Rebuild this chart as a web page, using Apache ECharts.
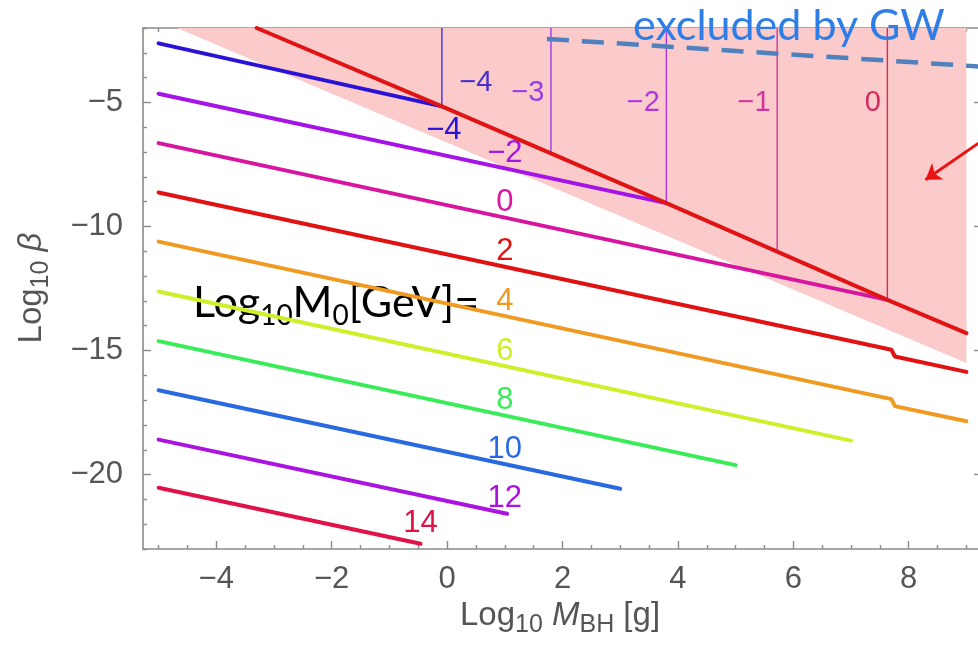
<!DOCTYPE html>
<html>
<head>
<meta charset="utf-8">
<script src="https://cdn.jsdelivr.net/npm/echarts@6/dist/echarts.min.js"></script>
<style>
  html, body { margin: 0; padding: 0; background: #fff; }
  #chart { width: 978px; height: 658px; }
</style>
</head>
<body>
<div id="chart"></div>
<script>
// ---- data: log10 M_BH [g] vs log10 beta, one curve per log10 M0 [GeV] ----
const levels = [-4, -2, 0, 2, 4, 6, 8, 10, 12, 14];
const curveMinus4 = [[-5, -2.62], [-0.09, -5.16]];
const curveMinus2 = [[-5, -4.65], [3.8, -9.06]];
const curve0  = [[-5, -6.64], [7.63, -12.96]];
const curve2  = [[-5, -8.63], [7.6, -14.92], [7.7, -14.97], [7.76, -15.24], [9, -15.86]];
const curve4  = [[-5, -10.61], [7.6, -16.91], [7.7, -16.96], [7.76, -17.24], [9, -17.85]];
const curve6  = [[-5, -12.62], [7.0, -18.63]];
const curve8  = [[-5, -14.62], [5.0, -19.62]];
const curve10 = [[-5, -16.6], [3.0, -20.57]];
const curve12 = [[-5, -18.59], [1.04, -21.58]];
const curve14 = [[-5, -20.53], [-0.46, -22.79]];
const curves = [curveMinus4, curveMinus2, curve0, curve2, curve4, curve6, curve8, curve10, curve12, curve14];

// upper limit (thick red) and the shaded excluded band
const boundaryRed = [[-3.3, -2.0], [-0.09, -5.16], [3.8, -9.06], [7.63, -12.96], [9.0, -14.3]];
const shadeEdge = [[-4.68, -2.0], [9.0, -15.5]];

// vertical scan lines (value of log10 M0 at each mass)
const scanMasses = [-0.09, 1.8, 3.8, 5.72, 7.63];
const scanLabels = ['\u22124', '\u22123', '\u22122', '\u22121', '0'];

// GW exclusion dashed line and pointer arrow
const gwLine = [[1.73, -2.44], [9.22, -3.55]];
const arrowPath = [[9.21, -6.64], [8.29, -8.12]];

// axis ticks
const xTicks = [-4, -2, 0, 2, 4, 6, 8];
const yTicks = [-20, -15, -10, -5];

// ---- styling ----
const levelColors = ['#2a12d6', '#a514e6', '#d8159e', '#e01212', '#f09a22', '#cdf02a', '#38ec58', '#2a6ae0', '#ab14e0', '#e01248'];
const scanColors  = ['#4a2fc8', '#9a3be8', '#b136e2', '#d0359e', '#d42a5c'];
const FONT = 'Liberation Sans, Arial, sans-serif';
const AXIS_COLOR = '#8a8a8a';
const TEXT_GRAY = '#555';

const X_MIN = -5.27, X_MAX = 9.27, Y_MIN = -23, Y_MAX = -2;

function interpY(curve, x) {
  for (let i = 0; i < curve.length - 1; i++) {
    const [x0, y0] = curve[i], [x1, y1] = curve[i + 1];
    if (x >= x0 && x <= x1) return y0 + (y1 - y0) * (x - x0) / (x1 - x0);
  }
  return x < curve[0][0] ? curve[0][1] : curve[curve.length - 1][1];
}
function minor(lo, hi, step, majors) {
  const out = [];
  for (let v = lo; v <= hi + 1e-9; v += step) {
    const r = Math.round(v * 100) / 100;
    if (!majors.includes(r)) out.push(r);
  }
  return out;
}
const fmt = v => (v < 0 ? '\u2212' + Math.abs(v) : String(v));

const xMinor = minor(-5, 9, 0.5, xTicks);
const yMinor = minor(-23, -2, 1, yTicks);

function frameAxis(kind, position, ticks, len, opts) {
  const base = {
    type: 'value', gridIndex: 0, position: position,
    min: kind === 'x' ? X_MIN : Y_MIN, max: kind === 'x' ? X_MAX : Y_MAX,
    splitLine: { show: false },
    axisLine: { show: opts.line, onZero: false, lineStyle: { color: AXIS_COLOR, width: 1.6 } },
    axisTick: { show: true, inside: true, length: len, customValues: ticks, lineStyle: { color: AXIS_COLOR, width: 1.4 } },
    axisLabel: { show: false }
  };
  if (opts.labels) {
    base.axisLabel = {
      show: true, customValues: ticks, formatter: fmt,
      fontFamily: FONT, fontSize: 31, color: TEXT_GRAY, margin: opts.margin
    };
  }
  return base;
}

// lay out a run of text pieces (with sub-scripts) left to right
const measureCtx = document.createElement('canvas').getContext('2d');
function textRun(parts, family, fill, at) {
  let cx = 0;
  const kids = parts.map(p => {
    const style = p.italic ? 'italic ' : '';
    measureCtx.font = style + p.size + 'px ' + family;
    const el = {
      type: 'text', x: cx, y: p.dy || 0, silent: true,
      style: {
        text: p.t, fontFamily: family, fontSize: p.size, fontStyle: p.italic ? 'italic' : 'normal',
        fill: fill, align: 'left', verticalAlign: 'middle'
      }
    };
    cx += measureCtx.measureText(p.t).width;
    return el;
  });
  const shift = at.center ? -cx / 2 : 0;
  kids.forEach(k => { k.x += shift; });
  return { type: 'group', x: at.x, y: at.y, rotation: at.rotation || 0, z: 20, children: kids };
}

const chart = echarts.init(document.getElementById('chart'), null, { renderer: 'canvas' });

const series = [];

// excluded (shaded) region: filled from edge up to the top of the frame
series.push({
  type: 'line', xAxisIndex: 0, yAxisIndex: 0, data: shadeEdge,
  symbol: 'none', silent: true, z: 1,
  lineStyle: { width: 0, opacity: 0 },
  areaStyle: { color: '#fbcaca', opacity: 1, origin: 'end' }
});

// beta curves with their level labels
curves.forEach((curve, i) => {
  const lv = levels[i];
  const lastX = curve[curve.length - 1][0];
  let ax, off;
  if (lv === -4) { ax = lastX; off = [2, 24]; }
  else if (lv === 14) { ax = lastX; off = [0, -20]; }
  else { ax = Math.min(1, lastX); off = [0, -15]; }
  series.push({
    type: 'line', xAxisIndex: 0, yAxisIndex: 0, data: curve,
    symbol: 'none', z: 3,
    lineStyle: { color: levelColors[i], width: 4, cap: 'round' },
    markPoint: {
      symbol: 'circle', symbolSize: 1, silent: true,
      itemStyle: { color: 'rgba(0,0,0,0)' },
      label: {
        show: true, position: 'inside', offset: off, formatter: fmt(lv),
        fontFamily: FONT, fontSize: 31, color: levelColors[i]
      },
      data: [{ coord: [ax, interpY(curve, ax)] }]
    }
  });
});

// vertical scan lines from the top frame down to the red limit
scanMasses.forEach((m, i) => {
  const yb = interpY(boundaryRed, m);
  const right = i === 0;
  series.push({
    type: 'line', xAxisIndex: 0, yAxisIndex: 0, data: [[m, Y_MAX], [m, yb]],
    symbol: 'none', z: 4,
    lineStyle: { color: scanColors[i], width: 1.4 },
    markPoint: {
      symbol: 'circle', symbolSize: 1, silent: true,
      itemStyle: { color: 'rgba(0,0,0,0)' },
      label: {
        show: true, position: right ? 'right' : 'left', distance: right ? 17 : 6,
        formatter: scanLabels[i], fontFamily: FONT, fontSize: 29, color: scanColors[i]
      },
      data: [{ coord: [m, i === 0 ? -4.2 : (i === 1 ? -4.6 : -5.02)] }]
    }
  });
});

// thick red limit line
series.push({
  type: 'line', xAxisIndex: 0, yAxisIndex: 0, data: boundaryRed,
  symbol: 'none', z: 5,
  lineStyle: { color: '#e01414', width: 4, cap: 'round' }
});

// GW exclusion (dashed)
series.push({
  type: 'line', xAxisIndex: 0, yAxisIndex: 0, data: gwLine,
  symbol: 'none', z: 6,
  lineStyle: { color: '#4f81bd', width: 4.5, type: [22, 13] }
});

// pointer arrow
series.push({
  type: 'lines', coordinateSystem: 'cartesian2d', xAxisIndex: 0, yAxisIndex: 0, z: 7,
  symbol: ['none', 'arrow'], symbolSize: 15,
  lineStyle: { color: '#e81414', width: 3, opacity: 1 },
  data: [{ coords: arrowPath }]
});

const LATO = 'Lato, Open Sans, sans-serif';

const option = {
  animation: false,
  backgroundColor: '#fff',
  grid: { left: 143, top: 28, width: 839, height: 521, containLabel: false, outerBoundsMode: 'none' },
  xAxis: [
    frameAxis('x', 'bottom', xTicks, 8, { line: true, labels: true, margin: 15 }),
    frameAxis('x', 'bottom', xMinor, 4, { line: false }),
    frameAxis('x', 'top', xTicks, 8, { line: true }),
    frameAxis('x', 'top', xMinor, 4, { line: false })
  ],
  yAxis: [
    frameAxis('y', 'left', yTicks, 8, { line: true, labels: true, margin: 20 }),
    frameAxis('y', 'left', yMinor, 4, { line: false }),
    frameAxis('y', 'right', yTicks, 8, { line: true }),
    frameAxis('y', 'right', yMinor, 4, { line: false })
  ],
  series: series,
  graphic: [
    {
      type: 'text', x: 633, y: 5, z: 20, silent: true,
      style: { text: 'excluded by GW', fontFamily: LATO, fontSize: 43, fill: '#2f7de6' }
    },
    textRun([
      { t: 'Log', size: 43 }, { t: '10', size: 28, dy: 13 },
      { t: 'M', size: 43 }, { t: '0', size: 28, dy: 13 },
      { t: '[GeV]=', size: 43 }
    ], LATO, '#000', { x: 193, y: 303 }),
    textRun([
      { t: 'Log', size: 33 }, { t: '10', size: 25, dy: 9 }, { t: ' ', size: 33 },
      { t: 'M', size: 33, italic: true }, { t: 'BH', size: 25, dy: 9 },
      { t: ' [g]', size: 33 }
    ], FONT, TEXT_GRAY, { x: 560, y: 616, center: true }),
    textRun([
      { t: 'Log', size: 33 }, { t: '10', size: 25, dy: 9 }, { t: ' ', size: 33 },
      { t: '\u03b2', size: 33, italic: true }
    ], FONT, TEXT_GRAY, { x: 32, y: 288, center: true, rotation: Math.PI / 2 })
  ]
};

chart.setOption(option);
</script>
</body>
</html>
